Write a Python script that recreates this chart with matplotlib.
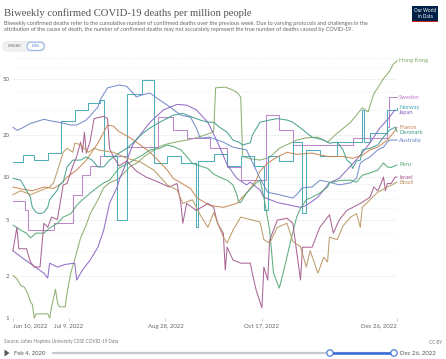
import matplotlib
matplotlib.use("Agg")
import matplotlib.pyplot as plt
from matplotlib.patches import FancyBboxPatch, Rectangle, Polygon, Circle
from matplotlib.ticker import NullLocator
import datetime as dt

# ---------------- data ----------------
start = dt.date(2022, 6, 10)
tick_dates = [dt.date(2022, 6, 10), dt.date(2022, 7, 9), dt.date(2022, 8, 28),
              dt.date(2022, 10, 17), dt.date(2022, 12, 26)]
tick_labels = ["Jun 10, 2022", "Jul 9, 2022", "Aug 28, 2022", "Oct 17, 2022", "Dec 26, 2022"]
y_ticks = [1, 2, 5, 10, 20, 50]
y_minor = [3, 4, 6, 7, 8, 9, 30, 40, 60, 70]

# days since Jun 10, 2022 and biweekly deaths per million
hk_days = [0, 2, 4, 6, 8, 9, 10, 11, 12, 18, 19, 20, 22, 23, 24, 27, 28, 30, 32, 35, 38, 40, 44, 47, 50, 54, 57, 61, 64,
           68, 73, 76, 80, 85, 90, 95, 100, 104, 105, 110, 113, 116, 118, 119, 123, 128, 133, 138, 144, 147, 152, 158,
           163, 168, 175, 181, 184, 187, 190, 192, 195, 197, 199]
hk_vals = [2.0, 1.9, 1.7, 1.65, 1.45, 1.3, 1.25, 1.0, 1.07, 1.07, 1.0, 1.2, 1.6, 1.3, 1.2, 1.2, 1.5, 2.1, 2.6, 3.7, 4.6,
           5.5, 6.9, 8.4, 9.1, 9.6, 10.5, 12, 12.5, 14, 15.5, 16.5, 17.2, 17.8, 18.3, 19, 20, 21, 43, 43.5, 42, 40, 37,
           14, 13.5, 13.2, 13.8, 16, 17.5, 18.3, 19, 19.2, 17.7, 20.5, 24.5, 31, 29, 39, 45, 50, 56, 63, 67]

sweden_days = [0, 6, 8, 21, 31, 36, 40, 45, 52, 59, 75, 83, 90, 102, 111, 118, 131, 138, 145, 176, 194, 195, 199]
sweden_vals = [6.75, 5.8, 4.2, 4.7, 7.5, 10.3, 12, 14, 14, 16.3, 26.6, 21.5, 18.9, 16, 11.8, 9.5, 27.5, 21.5, 16.9,
               18.9, 22.6, 37, 37]

norway_days = [0, 5, 11, 18, 25, 32, 39, 45, 47, 54, 59, 67, 73, 80, 87, 95, 96, 104, 111, 118, 125, 130, 132, 138,
               145, 150, 152, 159, 168, 181, 182, 185, 194, 199]
norway_vals = [12.8, 14.3, 13.2, 14.8, 25, 30, 33.6, 35, 14, 5.0, 39, 48.6, 12.5, 14, 12.5, 4.4, 13, 14.5, 12, 14, 12,
               5.8, 14, 13, 17.7, 5.6, 15.6, 14, 17.7, 30, 17.7, 20.5, 30, 31]

japan_days = [0, 5, 10, 16, 18, 19, 23, 27, 32, 33, 36, 40, 44, 47, 50, 54, 55, 58, 62, 66, 71, 75, 78, 85, 90, 95, 101,
              106, 111, 116, 121, 123, 128, 130, 137, 144, 149, 152, 158, 161, 164, 169, 175, 180, 185, 190, 194, 198]
japan_vals = [3.0, 2.66, 2.38, 2.08, 1.92, 2.45, 2.3, 2.4, 2.45, 1.86, 2.19, 2.58, 3.18, 4.2, 6.5, 8.5, 9.5, 12, 16.9,
              20, 24.5, 27.5, 30, 32.8, 32.4, 30, 24.5, 17.7, 12.2, 9.8, 8.8, 9.2, 8.1, 7.2, 6.6, 6.3, 6.1, 6.3, 7.2, 8.1,
              9.1, 9.8, 12, 14.3, 17.5, 22.2, 25.5, 30]

france_days = [0, 5, 10, 16, 21, 25, 28, 33, 38, 44, 49, 52, 55, 61, 66, 71, 76, 80, 83, 87, 92, 95, 97, 102, 109, 116,
               119, 123, 126, 128, 132, 137, 142, 147, 155, 163, 171, 176, 181, 185, 189, 194, 197, 199]
france_vals = [8.5, 8.2, 8.0, 8.5, 8.3, 9, 10, 11.2, 13.2, 17.4, 23.4, 23, 21, 18.9, 16.9, 15, 12.8, 11.2, 9.8, 9.1, 8.3,
               7.2, 6.9, 6.3, 6.1, 6.5, 7.2, 8.3, 9.5, 11, 12.6, 13.9, 15, 14.5, 14.8, 14, 14, 13.6, 14.3, 15.6, 16.3,
               18.3, 20.5, 22.6]

denmark_days = [0, 4, 9, 10, 12, 14, 16, 18, 19, 23, 24, 26, 28, 31, 35, 38, 41, 44, 47, 50, 55, 59, 62, 66, 71, 76, 83,
                88, 93, 97, 101, 104, 107, 111, 114, 117, 119, 123, 124, 128, 133, 137, 142, 145, 149, 155, 161, 164,
                168, 171, 173, 175, 176, 178, 180, 181, 185, 189, 192, 195, 198, 199]
denmark_vals = [9.8, 9.5, 7.2, 6.1, 5.6, 5.5, 5.6, 6.1, 6.9, 8.1, 8.8, 9.2, 11.8, 13.2, 13.2, 13.9, 13.2, 11.8, 11.8,
                13.2, 14.8, 16, 17.4, 19.8, 22.3, 24.5, 27.5, 28.3, 26.6, 25.4, 24.5, 24.5, 22.6, 20.8, 18.3, 17.7, 16.9,
                17.5, 19.8, 24.5, 25.4, 26, 25.4, 24.5, 22.3, 19.2, 18.3, 17.4, 17.7, 15.6, 13.2, 12.6, 11.5, 13, 13.2,
                15.6, 16, 16.9, 19.2, 21.5, 22.6, 21]

australia_days = [0, 2, 4, 9, 16, 20, 24, 30, 33, 38, 44, 45, 49, 55, 59, 61, 64, 66, 71, 75, 80, 87, 92, 95, 97, 102,
                  106, 109, 114, 121, 124, 128, 132, 138, 145, 147, 150, 155, 159, 164, 169, 175, 178, 180, 182, 185,
                  189, 192, 194, 195, 199]
australia_vals = [22.6, 21.5, 22, 24, 25.7, 25, 24.5, 23.4, 23.4, 25.4, 31.4, 35, 43, 45, 44, 41, 37, 38, 39.5, 36, 32.4,
                  27.5, 26.6, 22.3, 18.9, 19.2, 18.3, 17.7, 16.3, 15.6, 12.8, 9.8, 7.8, 7.5, 7.1, 7.5, 8.4, 8.5, 9.5,
                  9.2, 8.8, 9.1, 9.8, 12.6, 13.2, 13.9, 15.6, 16.3, 17.7, 18.3, 18.3]

peru_days = [0, 4, 7, 9, 12, 16, 19, 23, 26, 30, 33, 36, 40, 44, 47, 50, 55, 61, 64, 67, 71, 76, 80, 83, 87, 90, 93, 97,
             101, 104, 107, 111, 114, 116, 117, 118, 121, 126, 128, 130, 133, 135, 138, 140, 144, 147, 149, 152, 155,
             159, 163, 164, 170, 175, 178, 181, 185, 189, 192, 194, 196, 199]
peru_vals = [4.56, 4.2, 4.0, 3.7, 4.0, 4.0, 4.35, 4.7, 5.2, 5.5, 6.3, 6.9, 7.7, 8.5, 9.1, 9.5, 11.6, 12.8, 13.6, 14.3,
             15.6, 16, 16.9, 16.5, 15.6, 14, 12.5, 12, 11.5, 10.5, 10, 9.5, 8.8, 7.5, 6.6, 6.6, 7.7, 9.1, 9.5, 7.2, 4.2,
             2.08, 1.63, 2.08, 3.57, 5.2, 6.0, 6.9, 7.2, 7.7, 8.5, 9.1, 9.5, 9.5, 9.2, 10.3, 10.7, 11.2, 12.6, 11.8,
             11.7, 12.2]

israel_days = [0, 2, 3, 7, 9, 11, 14, 16, 18, 20, 23, 26, 28, 31, 33, 35, 36, 37, 38, 40, 42, 47, 49, 50, 52, 55, 59, 64,
               69, 73, 77, 81, 85, 87, 88, 90, 95, 101, 104, 106, 109, 110, 111, 114, 118, 123, 124, 126, 129, 130, 132,
               133, 137, 142, 145, 149, 150, 155, 159, 164, 166, 169, 173, 180, 185, 187, 189, 190, 192, 193, 194, 196,
               198, 199]
israel_vals = [3.0, 4.4, 3.1, 3.1, 2.5, 2.3, 2.3, 4.7, 4.4, 5.2, 5, 8.8, 9, 12, 14, 17.7, 15, 20.8, 14.8, 18, 26, 27, 26,
               16, 14, 12, 13, 11, 10, 9.5, 9, 8.5, 9, 6.5, 4.7, 6.5, 5.8, 6.5, 6.1, 4.7, 4.0, 2.19, 3.18, 2.58, 2.45,
               2.45, 2.08, 1.58, 1.18, 2.3, 1.86, 3.57, 4.95, 5.1, 4.7, 1.86, 3.18, 3.18, 4.4, 5.4, 4.0, 4.95, 5.8, 6.5,
               7.2, 8.5, 8.0, 8.5, 10, 8, 9, 9, 10, 10]

brazil_days = [0, 4, 9, 14, 19, 21, 24, 26, 28, 31, 32, 35, 39, 42, 45, 52, 59, 66, 73, 80, 85, 88, 93, 97, 101, 104,
               109, 111, 114, 118, 123, 128, 130, 133, 137, 142, 145, 149, 152, 154, 158, 161, 163, 164, 168, 171, 175,
               178, 180, 181, 185, 189, 194, 199]
brazil_vals = [7.5, 8, 7.5, 8, 8.5, 9.1, 12.2, 15, 16, 15, 17.4, 17, 15, 16, 15.5, 15, 13.6, 12.8, 11.2, 8.8, 8.1, 6.5,
               6.9, 5.4, 4.4, 5.6, 3.75, 3.4, 4.2, 5.2, 5.0, 4.8, 3.6, 3.4, 4.4, 4.7, 3.5, 3.2, 2.3, 3.0, 2.08, 2.7, 2.5,
               3.75, 3.6, 4.5, 5.2, 5.5, 4.4, 6.1, 6.9, 7.8, 8.5, 9.2]

series = [
    ("Hong Kong", hk_days, hk_vals, "#86a965", "default"),
    ("Sweden", sweden_days, sweden_vals, "#b97fc6", "steps-post"),
    ("Norway", norway_days, norway_vals, "#42a7b6", "steps-post"),
    ("Japan", japan_days, japan_vals, "#8a62c2", "default"),
    ("France", france_days, france_vals, "#c7834f", "default"),
    ("Denmark", denmark_days, denmark_vals, "#3e9c8c", "default"),
    ("Australia", australia_days, australia_vals, "#6b86c6", "default"),
    ("Peru", peru_days, peru_vals, "#4fa774", "default"),
    ("Israel", israel_days, israel_vals, "#a3588c", "default"),
    ("Brazil", brazil_days, brazil_vals, "#b9955f", "default"),
]

# ---------------- figure ----------------
W, H = 446, 359
fig = plt.figure(figsize=(W / 100, H / 100), dpi=100)
ov = fig.add_axes([0, 0, 1, 1])
ov.set_xlim(0, W)
ov.set_ylim(H, 0)
ov.axis("off")

ax = fig.add_axes([13 / W, (H - 318) / H, 384 / W, 260 / H])
ax.set_yscale("log")
ax.set_ylim(1, 70)
ax.set_xlim(0, (tick_dates[-1] - start).days)
for s in ax.spines.values():
    s.set_visible(False)
ax.patch.set_alpha(0)

for v in y_minor:
    ax.axhline(v, color="#ebebeb", lw=0.5, ls=(0, (2, 2)), zorder=0)
for v in y_ticks:
    ax.axhline(v, color="#d9d9d9", lw=0.5, ls=(0, (2, 2)), zorder=0)

ax.set_yticks(y_ticks, labels=[str(v) for v in y_ticks])
ax.yaxis.set_minor_locator(NullLocator())
ax.tick_params(axis="y", length=0, pad=2.5, labelsize=4.4, labelcolor="#666666")
for lab in ax.get_yticklabels():
    lab.set_family("Lato")

xt = [(d - start).days for d in tick_dates]
ax.set_xticks(xt, labels=tick_labels)
ax.xaxis.set_minor_locator(NullLocator())
ax.tick_params(axis="x", length=2.5, width=0.5, color="#bbbbbb", pad=1.5, labelsize=4.3, labelcolor="#666666")
xl = ax.get_xticklabels()
for lab in xl:
    lab.set_family("Lato")
xl[0].set_ha("left")
xl[-1].set_ha("right")

for name, d, v, c, ds in series:
    ax.plot(d, v, color=c, lw=0.75, alpha=0.92, drawstyle=ds, clip_on=False, solid_joinstyle="round", zorder=3)

# right-hand labels with simple collision avoidance
fig.canvas.draw()
pos = []
for name, d, v, c, ds in series:
    _, yd = ax.transData.transform((d[-1], v[-1]))
    pos.append([H - yd, name, c])
pos.sort(key=lambda p: p[0])
gap = 5.0
for i in range(1, len(pos)):
    if pos[i][0] - pos[i - 1][0] < gap:
        pos[i][0] = pos[i - 1][0] + gap
for y, name, c in pos:
    ov.text(399, y, name, color=c, fontsize=4.2, family="Lato", va="center", ha="left")

# ---------------- header ----------------
ov.text(4, 13, "Biweekly confirmed COVID-19 deaths per million people", fontsize=7.7,
        family="Liberation Serif", color="#555555", va="center", ha="left")
ov.text(4, 24, "Biweekly confirmed deaths refer to the cumulative number of confirmed deaths over the previous week. "
               "Due to varying protocols and challenges in the", fontsize=3.95, family="Lato", color="#666666",
        va="center", ha="left")
ov.text(4, 30, "attribution of the cause of death, the number of confirmed deaths may not accurately represent the "
               "true number of deaths caused by COVID-19.", fontsize=3.95, family="Lato", color="#666666",
        va="center", ha="left")

ov.add_patch(FancyBboxPatch((3, 41.5), 42, 9.5, boxstyle="round,pad=0,rounding_size=4.7",
                            fc="#f2f2f2", ec="#e2e2e2", lw=0.5))
ov.add_patch(FancyBboxPatch((27, 42.2), 17, 8.1, boxstyle="round,pad=0,rounding_size=4",
                            fc="white", ec="#7da3e8", lw=0.6))
ov.text(14.5, 46.3, "LINEAR", fontsize=2.9, family="Lato", color="#6d6d6d", va="center", ha="center")
ov.text(35.5, 46.3, "LOG", fontsize=2.9, family="Lato", color="#3b6fd6", va="center", ha="center")

ov.add_patch(Rectangle((412, 6), 26, 16, fc="#002147", ec="none"))
ov.add_patch(Rectangle((412, 20.5), 26, 1.5, fc="#ce261e", ec="none"))
ov.text(425, 11, "Our World", fontsize=3.3, family="Lato", color="white", va="center", ha="center")
ov.text(425, 16.5, "in Data", fontsize=3.3, family="Lato", color="white", va="center", ha="center")

# ---------------- footer ----------------
ov.text(4, 342, "Source: Johns Hopkins University CSSE COVID-19 Data", fontsize=3.3, family="Lato",
        color="#7a7a7a", va="center", ha="left")
ov.text(442, 342, "CC BY", fontsize=3.3, family="Lato", color="#7a7a7a", va="center", ha="right")

ov.add_patch(Polygon([(4.5, 349.5), (4.5, 356.5), (9.5, 353)], closed=True, fc="#5a5a5a", ec="none"))
ov.text(14, 353, "Feb 4, 2020", fontsize=4.3, family="Lato", color="#555555", va="center", ha="left")
ov.plot([53, 394], [353, 353], color="#c5cad2", lw=1.6, solid_capstyle="round")
ov.plot([330, 394], [353, 353], color="#3d6fd8", lw=1.9)
for cx in (330, 394):
    ov.add_patch(Circle((cx, 353), 3.2, fc="white", ec="#3d6fd8", lw=0.8, zorder=5))
ov.text(400, 353, "Dec 26, 2022", fontsize=4.3, family="Lato", color="#555555", va="center", ha="left")

fig.savefig("out.png", dpi=100)
